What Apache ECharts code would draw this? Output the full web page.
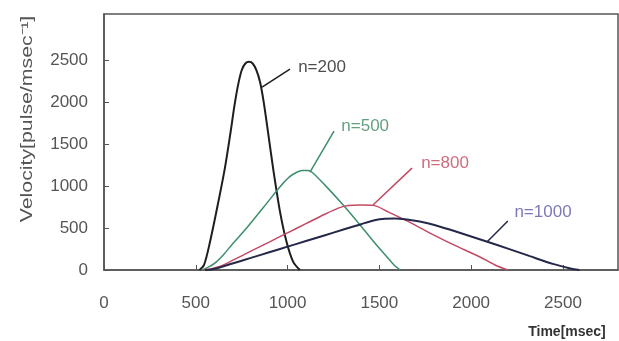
<!DOCTYPE html>
<html>
<head>
<meta charset="utf-8">
<script src="https://cdn.jsdelivr.net/npm/echarts@6/dist/echarts.min.js"></script>
<style>html,body{margin:0;padding:0;background:#fff}#c{width:619px;height:341px}</style>
</head>
<body>
<div id="c"></div>
<script>
// ---- data (time in msec, velocity in pulse/msec) ----
const xTicks = [0, 500, 1000, 1500, 2000, 2500];
const yTicks = [0, 500, 1000, 1500, 2000, 2500];

const time200 = [520, 545, 577, 620, 659, 690, 710, 730, 750, 770, 790, 810, 830, 850, 870, 895, 922, 960, 995, 1030, 1067];
const vel200  = [0, 60, 330, 780, 1220, 1650, 1950, 2200, 2380, 2460, 2480, 2460, 2380, 2240, 2000, 1620, 1200, 680, 330, 100, 0];

const time500 = [530, 560, 600, 650, 700, 777, 870, 958, 1010, 1050, 1080, 1110, 1133, 1200, 1303, 1403, 1480, 1540, 1580, 1615];
const vel500  = [0, 25, 75, 180, 310, 500, 750, 990, 1110, 1165, 1185, 1185, 1165, 1020, 774, 515, 310, 159, 60, 0];

const time800 = [540, 580, 620, 660, 700, 800, 900, 1000, 1100, 1200, 1280, 1330, 1400, 1467, 1550, 1650, 1776, 1900, 2048, 2130, 2200];
const vel800  = [0, 12, 35, 70, 114, 224, 333, 443, 552, 661, 740, 768, 775, 770, 690, 585, 440, 305, 155, 60, 0];

const time1000 = [550, 590, 630, 700, 800, 900, 1000, 1100, 1200, 1300, 1400, 1480, 1530, 1585, 1650, 1720, 1800, 1900, 2000, 2084, 2200, 2320, 2450, 2530, 2590];
const vel1000  = [0, 10, 30, 78, 144, 211, 278, 345, 412, 479, 546, 595, 610, 615, 602, 577, 537, 470, 400, 340, 255, 165, 70, 25, 0];

const labelNames = ['n=200', 'n=500', 'n=800', 'n=1000'];
const leaderFromT = [861, 1122, 1465, 2086];
const leaderFromV = [2179, 1167, 774, 333];
const leaderToT   = [1013, 1253, 1678, 2200];
const leaderToV   = [2393, 1655, 1214, 583];
const labelT      = [1055, 1290, 1725, 2233];
const labelV      = [2417, 1714, 1274, 690];

const lineColors  = ['#1e1e1e', '#3d8f6a', '#c24a63', '#26284a'];
const textColors  = ['#222222', '#3b8a5e', '#c0485c', '#5a57a8'];
const lineWidths  = [2, 1.5, 1.5, 2];

const times = [time200, time500, time800, time1000];
const vels = [vel200, vel500, vel800, vel1000];

const series = [];
for (let i = 0; i < 4; i++) {
  series.push({
    type: 'line',
    data: times[i].map((t, k) => [t, vels[i][k]]),
    smooth: 0.3,
    symbol: 'none',
    lineStyle: { color: lineColors[i], width: lineWidths[i] },
    z: 3 + i,
    markLine: {
      silent: true,
      symbol: ['none', 'none'],
      label: { show: false },
      lineStyle: { color: lineColors[i], width: 1.5, type: 'solid' },
      data: [[{ coord: [leaderFromT[i], leaderFromV[i]] }, { coord: [leaderToT[i], leaderToV[i]] }]]
    }
  });
  series.push({
    type: 'scatter',
    data: [[labelT[i], labelV[i]]],
    symbolSize: 1,
    itemStyle: { color: 'rgba(0,0,0,0)' },
    silent: true,
    label: {
      show: true, position: 'right', distance: 0,
      formatter: labelNames[i],
      color: textColors[i], fontSize: 17, fontFamily: 'Liberation Sans'
    }
  });
}

const chart = echarts.init(document.getElementById('c'));
chart.setOption({
  animation: false,
  backgroundColor: '#ffffff',
  grid: { left: 104, right: 1, top: 14, bottom: 71, show: true, borderColor: '#555', borderWidth: 1.5, backgroundColor: 'transparent' },
  xAxis: {
    type: 'value', min: 0, max: 2800, interval: 500,
    axisLine: { show: true, lineStyle: { color: '#555', width: 1.5 } },
    axisTick: { show: true, inside: true, length: 5, lineStyle: { color: '#555' }, customValues: xTicks },
    splitLine: { show: false },
    axisLabel: {
      margin: 25, fontSize: 17, color: '#555', fontFamily: 'Liberation Sans',
      customValues: xTicks,
      formatter: v => xTicks.includes(v) ? String(v) : ''
    }
  },
  yAxis: {
    type: 'value', min: 0, max: 3050, interval: 500,
    axisLine: { show: true, lineStyle: { color: '#555', width: 1.5 } },
    axisTick: { show: true, inside: true, length: 5, lineStyle: { color: '#555' }, customValues: yTicks },
    splitLine: { show: false },
    axisLabel: {
      margin: 16, fontSize: 17, color: '#555', fontFamily: 'Liberation Sans',
      customValues: yTicks,
      formatter: v => yTicks.includes(v) ? String(v) : ''
    }
  },
  graphic: [
    {
      type: 'text', x: 28, y: 119, rotation: Math.PI / 2, scaleX: 1.33,
      style: { text: 'Velocity[pulse/msec⁻¹]', fill: '#555', font: '16px "Liberation Sans"', align: 'center', verticalAlign: 'middle' }
    },
    {
      type: 'text', x: 567, y: 332,
      style: { text: 'Time[msec]', fill: '#333', font: 'bold 14px "Liberation Sans"', align: 'center', verticalAlign: 'middle' }
    }
  ],
  series: series
});
</script>
</body>
</html>
